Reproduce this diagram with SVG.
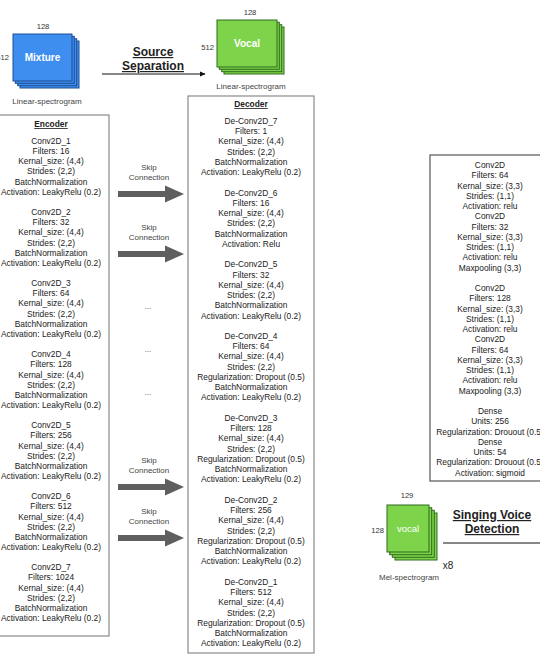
<svg xmlns="http://www.w3.org/2000/svg" width="540" height="662" viewBox="0 0 540 662">
<style>
text{font-family:"Liberation Sans",Arial,sans-serif;fill:#222}
.t{font-size:8.4px;text-anchor:middle}
.h{font-size:8.4px;font-weight:bold;text-anchor:middle;text-decoration:underline}
.big{font-size:12px;font-weight:bold;text-anchor:middle;text-decoration:underline}
.s{font-size:7.6px;text-anchor:middle;fill:#333}
.lbl{font-size:8px;text-anchor:middle;fill:#444}
.box{fill:#fff;stroke:#8a8a8a;stroke-width:1.2}
.blue{fill:#3e8ef0;stroke:#1d4f95;stroke-width:1}
.green{fill:#7dd44a;stroke:#2f6a1c;stroke-width:1}
.wt{font-size:10px;font-weight:bold;fill:#fff;text-anchor:middle}
.skip{fill:#5f5f5f}
</style>
<defs>
<marker id="ah" markerWidth="6" markerHeight="6" refX="5" refY="3" orient="auto" markerUnits="userSpaceOnUse">
<path d="M0,0.5 L5.5,3 L0,5.5 z" fill="#111"/>
</marker>
</defs>

<g id="mixture">
<rect class="blue" x="20" y="41" width="59" height="47"/>
<rect class="blue" x="17.7" y="38.7" width="59" height="47"/>
<rect class="blue" x="15.3" y="36.3" width="59" height="47"/>
<rect class="blue" x="13" y="34" width="59" height="47"/>
<text class="wt" x="42.5" y="61">Mixture</text>
<text class="s" x="43" y="29">128</text>
<text class="s" x="9" y="60" style="text-anchor:end">512</text>
<text class="lbl" x="47" y="104">Linear-spectrogram</text>
</g>

<g id="vocal-linear">
<rect class="green" x="224" y="27" width="60" height="47"/>
<rect class="green" x="221.7" y="24.7" width="60" height="47"/>
<rect class="green" x="219.3" y="22.3" width="60" height="47"/>
<rect class="green" x="217" y="20" width="60" height="47"/>
<text class="wt" x="247" y="47">Vocal</text>
<text class="s" x="250" y="15">128</text>
<text class="s" x="214" y="50" style="text-anchor:end">512</text>
<text class="lbl" x="251" y="89">Linear-spectrogram</text>
</g>

<g id="source-separation">
<text class="big" x="153" y="56">Source</text>
<text class="big" x="153" y="70">Separation</text>
</g>

<g id="encoder">
<rect class="box" x="-1" y="115" width="110" height="521"/>
<text class="h" x="51" y="127">Encoder</text>
<text class="t" x="51" y="144"><tspan x="51">Conv2D_1</tspan><tspan x="51" dy="10.15">Filters: 16</tspan><tspan x="51" dy="10.15">Kernal_size: (4,4)</tspan><tspan x="51" dy="10.15">Strides: (2,2)</tspan><tspan x="51" dy="10.15">BatchNormalization</tspan><tspan x="51" dy="10.15">Activation: LeakyRelu (0.2)</tspan></text>
<text class="t" x="51" y="215.1"><tspan x="51">Conv2D_2</tspan><tspan x="51" dy="10.15">Filters: 32</tspan><tspan x="51" dy="10.15">Kernal_size: (4,4)</tspan><tspan x="51" dy="10.15">Strides: (2,2)</tspan><tspan x="51" dy="10.15">BatchNormalization</tspan><tspan x="51" dy="10.15">Activation: LeakyRelu (0.2)</tspan></text>
<text class="t" x="51" y="286.1"><tspan x="51">Conv2D_3</tspan><tspan x="51" dy="10.15">Filters: 64</tspan><tspan x="51" dy="10.15">Kernal_size: (4,4)</tspan><tspan x="51" dy="10.15">Strides: (2,2)</tspan><tspan x="51" dy="10.15">BatchNormalization</tspan><tspan x="51" dy="10.15">Activation: LeakyRelu (0.2)</tspan></text>
<text class="t" x="51" y="357.2"><tspan x="51">Conv2D_4</tspan><tspan x="51" dy="10.15">Filters: 128</tspan><tspan x="51" dy="10.15">Kernal_size: (4,4)</tspan><tspan x="51" dy="10.15">Strides: (2,2)</tspan><tspan x="51" dy="10.15">BatchNormalization</tspan><tspan x="51" dy="10.15">Activation: LeakyRelu (0.2)</tspan></text>
<text class="t" x="51" y="428.2"><tspan x="51">Conv2D_5</tspan><tspan x="51" dy="10.15">Filters: 256</tspan><tspan x="51" dy="10.15">Kernal_size: (4,4)</tspan><tspan x="51" dy="10.15">Strides: (2,2)</tspan><tspan x="51" dy="10.15">BatchNormalization</tspan><tspan x="51" dy="10.15">Activation: LeakyRelu (0.2)</tspan></text>
<text class="t" x="51" y="499.3"><tspan x="51">Conv2D_6</tspan><tspan x="51" dy="10.15">Filters: 512</tspan><tspan x="51" dy="10.15">Kernal_size: (4,4)</tspan><tspan x="51" dy="10.15">Strides: (2,2)</tspan><tspan x="51" dy="10.15">BatchNormalization</tspan><tspan x="51" dy="10.15">Activation: LeakyRelu (0.2)</tspan></text>
<text class="t" x="51" y="570.3"><tspan x="51">Conv2D_7</tspan><tspan x="51" dy="10.15">Filters: 1024</tspan><tspan x="51" dy="10.15">Kernal_size: (4,4)</tspan><tspan x="51" dy="10.15">Strides: (2,2)</tspan><tspan x="51" dy="10.15">BatchNormalization</tspan><tspan x="51" dy="10.15">Activation: LeakyRelu (0.2)</tspan></text>
</g>

<g id="decoder">
<rect class="box" x="188" y="96" width="126" height="557"/>
<text class="h" x="251" y="107">Decoder</text>
<text class="t" x="251" y="124"><tspan x="251">De-Conv2D_7</tspan><tspan x="251" dy="10.24">Filters: 1</tspan><tspan x="251" dy="10.24">Kernal_size: (4,4)</tspan><tspan x="251" dy="10.24">Strides: (2,2)</tspan><tspan x="251" dy="10.24">BatchNormalization</tspan><tspan x="251" dy="10.24">Activation: LeakyRelu (0.2)</tspan></text>
<text class="t" x="251" y="195.7"><tspan x="251">De-Conv2D_6</tspan><tspan x="251" dy="10.24">Filters: 16</tspan><tspan x="251" dy="10.24">Kernal_size: (4,4)</tspan><tspan x="251" dy="10.24">Strides: (2,2)</tspan><tspan x="251" dy="10.24">BatchNormalization</tspan><tspan x="251" dy="10.24">Activation: Relu</tspan></text>
<text class="t" x="251" y="267.4"><tspan x="251">De-Conv2D_5</tspan><tspan x="251" dy="10.24">Filters: 32</tspan><tspan x="251" dy="10.24">Kernal_size: (4,4)</tspan><tspan x="251" dy="10.24">Strides: (2,2)</tspan><tspan x="251" dy="10.24">BatchNormalization</tspan><tspan x="251" dy="10.24">Activation: LeakyRelu (0.2)</tspan></text>
<text class="t" x="251" y="339"><tspan x="251">De-Conv2D_4</tspan><tspan x="251" dy="10.24">Filters: 64</tspan><tspan x="251" dy="10.24">Kernal_size: (4,4)</tspan><tspan x="251" dy="10.24">Strides: (2,2)</tspan><tspan x="251" dy="10.24">Regularization: Dropout (0.5)</tspan><tspan x="251" dy="10.24">BatchNormalization</tspan><tspan x="251" dy="10.24">Activation: LeakyRelu (0.2)</tspan></text>
<text class="t" x="251" y="421"><tspan x="251">De-Conv2D_3</tspan><tspan x="251" dy="10.24">Filters: 128</tspan><tspan x="251" dy="10.24">Kernal_size: (4,4)</tspan><tspan x="251" dy="10.24">Strides: (2,2)</tspan><tspan x="251" dy="10.24">Regularization: Dropout (0.5)</tspan><tspan x="251" dy="10.24">BatchNormalization</tspan><tspan x="251" dy="10.24">Activation: LeakyRelu (0.2)</tspan></text>
<text class="t" x="251" y="502.9"><tspan x="251">De-Conv2D_2</tspan><tspan x="251" dy="10.24">Filters: 256</tspan><tspan x="251" dy="10.24">Kernal_size: (4,4)</tspan><tspan x="251" dy="10.24">Strides: (2,2)</tspan><tspan x="251" dy="10.24">Regularization: Dropout (0.5)</tspan><tspan x="251" dy="10.24">BatchNormalization</tspan><tspan x="251" dy="10.24">Activation: LeakyRelu (0.2)</tspan></text>
<text class="t" x="251" y="584.8"><tspan x="251">De-Conv2D_1</tspan><tspan x="251" dy="10.24">Filters: 512</tspan><tspan x="251" dy="10.24">Kernal_size: (4,4)</tspan><tspan x="251" dy="10.24">Strides: (2,2)</tspan><tspan x="251" dy="10.24">Regularization: Dropout (0.5)</tspan><tspan x="251" dy="10.24">BatchNormalization</tspan><tspan x="251" dy="10.24">Activation: LeakyRelu (0.2)</tspan></text>
</g>

<g id="classifier">
<rect class="box" x="430" y="155" width="115" height="326" style="stroke:#555"/>
<text class="t" x="490" y="168"><tspan x="490">Conv2D</tspan><tspan x="490" dy="10.25">Filters: 64</tspan><tspan x="490" dy="10.25">Kernal_size: (3,3)</tspan><tspan x="490" dy="10.25">Strides: (1,1)</tspan><tspan x="490" dy="10.25">Activation: relu</tspan><tspan x="490" dy="10.25">Conv2D</tspan><tspan x="490" dy="10.25">Filters: 32</tspan><tspan x="490" dy="10.25">Kernal_size: (3,3)</tspan><tspan x="490" dy="10.25">Strides: (1,1)</tspan><tspan x="490" dy="10.25">Activation: relu</tspan><tspan x="490" dy="10.25">Maxpooling (3,3)</tspan></text>
<text class="t" x="490" y="291"><tspan x="490">Conv2D</tspan><tspan x="490" dy="10.25">Filters: 128</tspan><tspan x="490" dy="10.25">Kernal_size: (3,3)</tspan><tspan x="490" dy="10.25">Strides: (1,1)</tspan><tspan x="490" dy="10.25">Activation: relu</tspan><tspan x="490" dy="10.25">Conv2D</tspan><tspan x="490" dy="10.25">Filters: 64</tspan><tspan x="490" dy="10.25">Kernal_size: (3,3)</tspan><tspan x="490" dy="10.25">Strides: (1,1)</tspan><tspan x="490" dy="10.25">Activation: relu</tspan><tspan x="490" dy="10.25">Maxpooling (3,3)</tspan></text>
<text class="t" x="490" y="414"><tspan x="490">Dense</tspan><tspan x="490" dy="10.25">Units: 256</tspan><tspan x="490" dy="10.25">Regularization: Drouout (0.5)</tspan><tspan x="490" dy="10.25">Dense</tspan><tspan x="490" dy="10.25">Units: 54</tspan><tspan x="490" dy="10.25">Regularization: Drouout (0.5)</tspan><tspan x="490" dy="10.25">Activation: sigmoid</tspan></text>
</g>

<g id="vocal-mel">
<rect class="green" x="395" y="513" width="42" height="47"/>
<rect class="green" x="392.3" y="510.3" width="42" height="47"/>
<rect class="green" x="389.7" y="507.7" width="42" height="47"/>
<rect class="green" x="387" y="505" width="42" height="47"/>
<text class="wt" x="408" y="532" style="font-weight:normal;font-size:9.5px">vocal</text>
<text class="s" x="407" y="498">129</text>
<text class="s" x="384" y="533" style="text-anchor:end">128</text>
<text x="448" y="569" style="font-size:10px;text-anchor:middle">x8</text>
<text class="lbl" x="409" y="580">Mel-spectrogram</text>
</g>

<g id="singing-voice-detection">
<text class="big" x="492" y="519">Singing Voice</text>
<text class="big" x="492" y="533">Detection</text>
</g>

<g id="connectors">
<line x1="102" y1="74" x2="205" y2="74" stroke="#111" stroke-width="1" marker-end="url(#ah)"/>
<line x1="443" y1="543" x2="541" y2="543" stroke="#111" stroke-width="1"/>
<polygon class="skip" points="118,191 165,191 165,185.5 184,194 165,202.5 165,197 118,197"/>
<polygon class="skip" points="118,251 165,251 165,245.5 184,254 165,262.5 165,257 118,257"/>
<polygon class="skip" points="118,484 165,484 165,478.5 184,487 165,495.5 165,490 118,490"/>
<polygon class="skip" points="118,535 165,535 165,529.5 184,538 165,546.5 165,541 118,541"/>
<text class="lbl" x="149" y="170">Skip</text>
<text class="lbl" x="149" y="180">Connection</text>
<text class="lbl" x="149" y="230">Skip</text>
<text class="lbl" x="149" y="240">Connection</text>
<text class="lbl" x="149" y="463">Skip</text>
<text class="lbl" x="149" y="473">Connection</text>
<text class="lbl" x="149" y="514">Skip</text>
<text class="lbl" x="149" y="524">Connection</text>
<text class="lbl" x="148" y="309">...</text>
<text class="lbl" x="148" y="352">...</text>
<text class="lbl" x="148" y="395">...</text>
</g>
</svg>
